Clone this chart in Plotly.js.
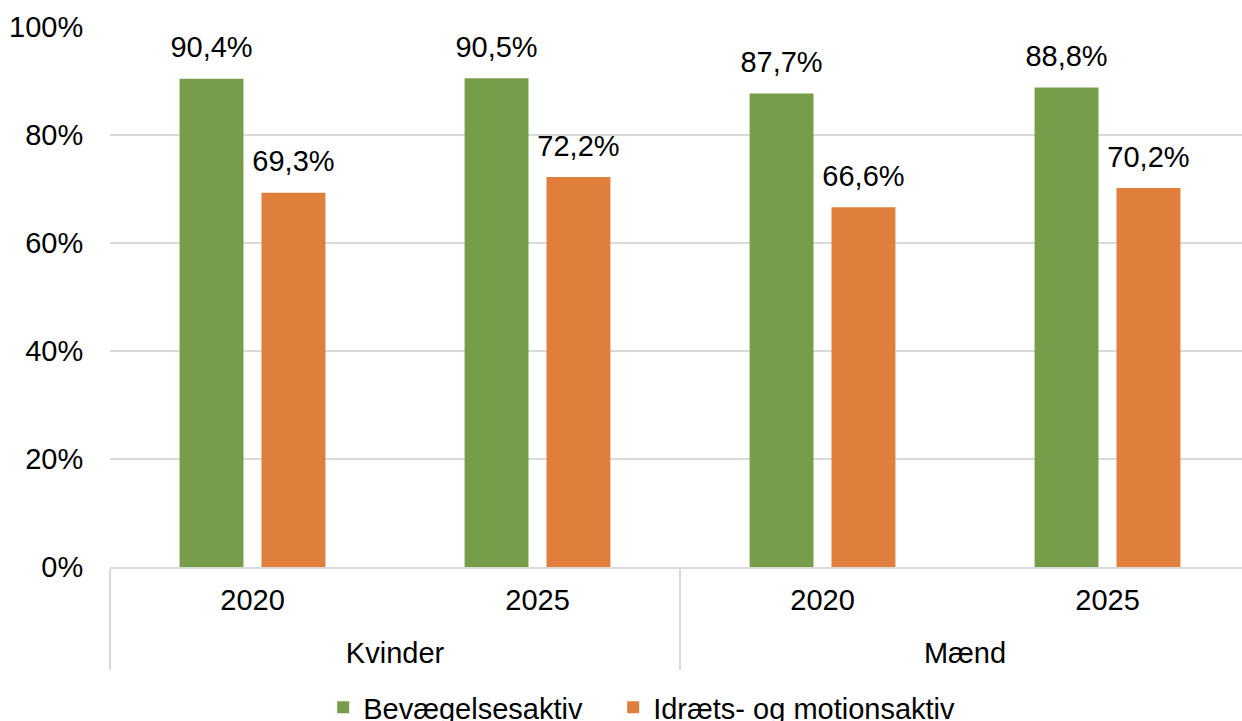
<!DOCTYPE html>
<html><head><meta charset="utf-8">
<script src="https://cdn.plot.ly/plotly-3.0.1.min.js"></script>
<style>html,body{margin:0;padding:0;background:#fff;overflow:hidden}#chart{width:1250px;height:721px}</style>
</head><body><div id="chart"></div>
<script>
const genders = ["Kvinder","Kvinder","Mænd","Mænd"];
const years = ["2020","2025","2020","2025"];
const seriesNames = ["Bevægelsesaktiv","Idræts- og motionsaktiv"];
const bevaegelse = [90.4,90.5,87.7,88.8];
const idraet = [69.3,72.2,66.6,70.2];
const yTicks = [0,20,40,60,80,100];
const colors = ["#789D4A","#E07E3C"];

const FS = 29;
const big = s => '<span style="font-size:' + FS + 'px">' + s + '</span>';
// parent labels get leading short lines so they sit lower, as in the reference
const x = [genders.map(g => '<br><br>' + big(g)), years.map(big)];
const fmt = v => v.toFixed(1).replace('.', ',') + '%';
const font = {family:'"Liberation Sans", Arial, sans-serif', size:FS, color:'#000'};
const series = [bevaegelse, idraet];
const legendWidths = [245, 0];
const traces = [];
series.forEach((vals,i)=>{
  const t = {type:'bar', x:x, y:vals, name:seriesNames[i], marker:{color:colors[i]}, hoverinfo:'skip'};
  if (legendWidths[i]) t.legendwidth = legendWidths[i];
  traces.push(t);
});
series.forEach((vals,i)=>{
  traces.push({type:'scatter', mode:'markers+text', x:x, y:vals, text:vals.map(fmt),
    textposition:'top center', textfont:font, marker:{size:21, opacity:0},
    showlegend:false, hoverinfo:'skip', cliponaxis:false});
});
const layout = {
  width:1250, height:721, margin:{l:110, r:0, t:27, b:154, autoexpand:false},
  paper_bgcolor:'#fff', plot_bgcolor:'#fff', font:font,
  barmode:'group', bargap:0.425, bargroupgap:0.22, scattermode:'group', scattergap:0.425,
  showlegend:true,
  legend:{orientation:'h', x:0.187, xanchor:'left', y:-0.213, yanchor:'top', font:font,
    traceorder:'normal'},
  xaxis:{type:'multicategory', showline:true, linecolor:'#d9d9d9', linewidth:1.5,
    showdividers:true, dividercolor:'#d9d9d9', dividerwidth:1.5,
    ticks:'', ticklabelstandoff:22,
    tickfont:{family:font.family, size:16, color:'#000'},
    showgrid:false, zeroline:false},
  yaxis:{range:[0,100], tickvals:yTicks, ticktext:yTicks.map(v=>v+'%'), showgrid:true,
    gridcolor:'#d9d9d9', gridwidth:1.5, zeroline:false, showline:false, ticks:'outside',
    ticklen:20, tickcolor:'rgba(0,0,0,0)', tickfont:font}
};
Plotly.newPlot('chart', traces, layout, {displayModeBar:false, staticPlot:true});
</script></body></html>
